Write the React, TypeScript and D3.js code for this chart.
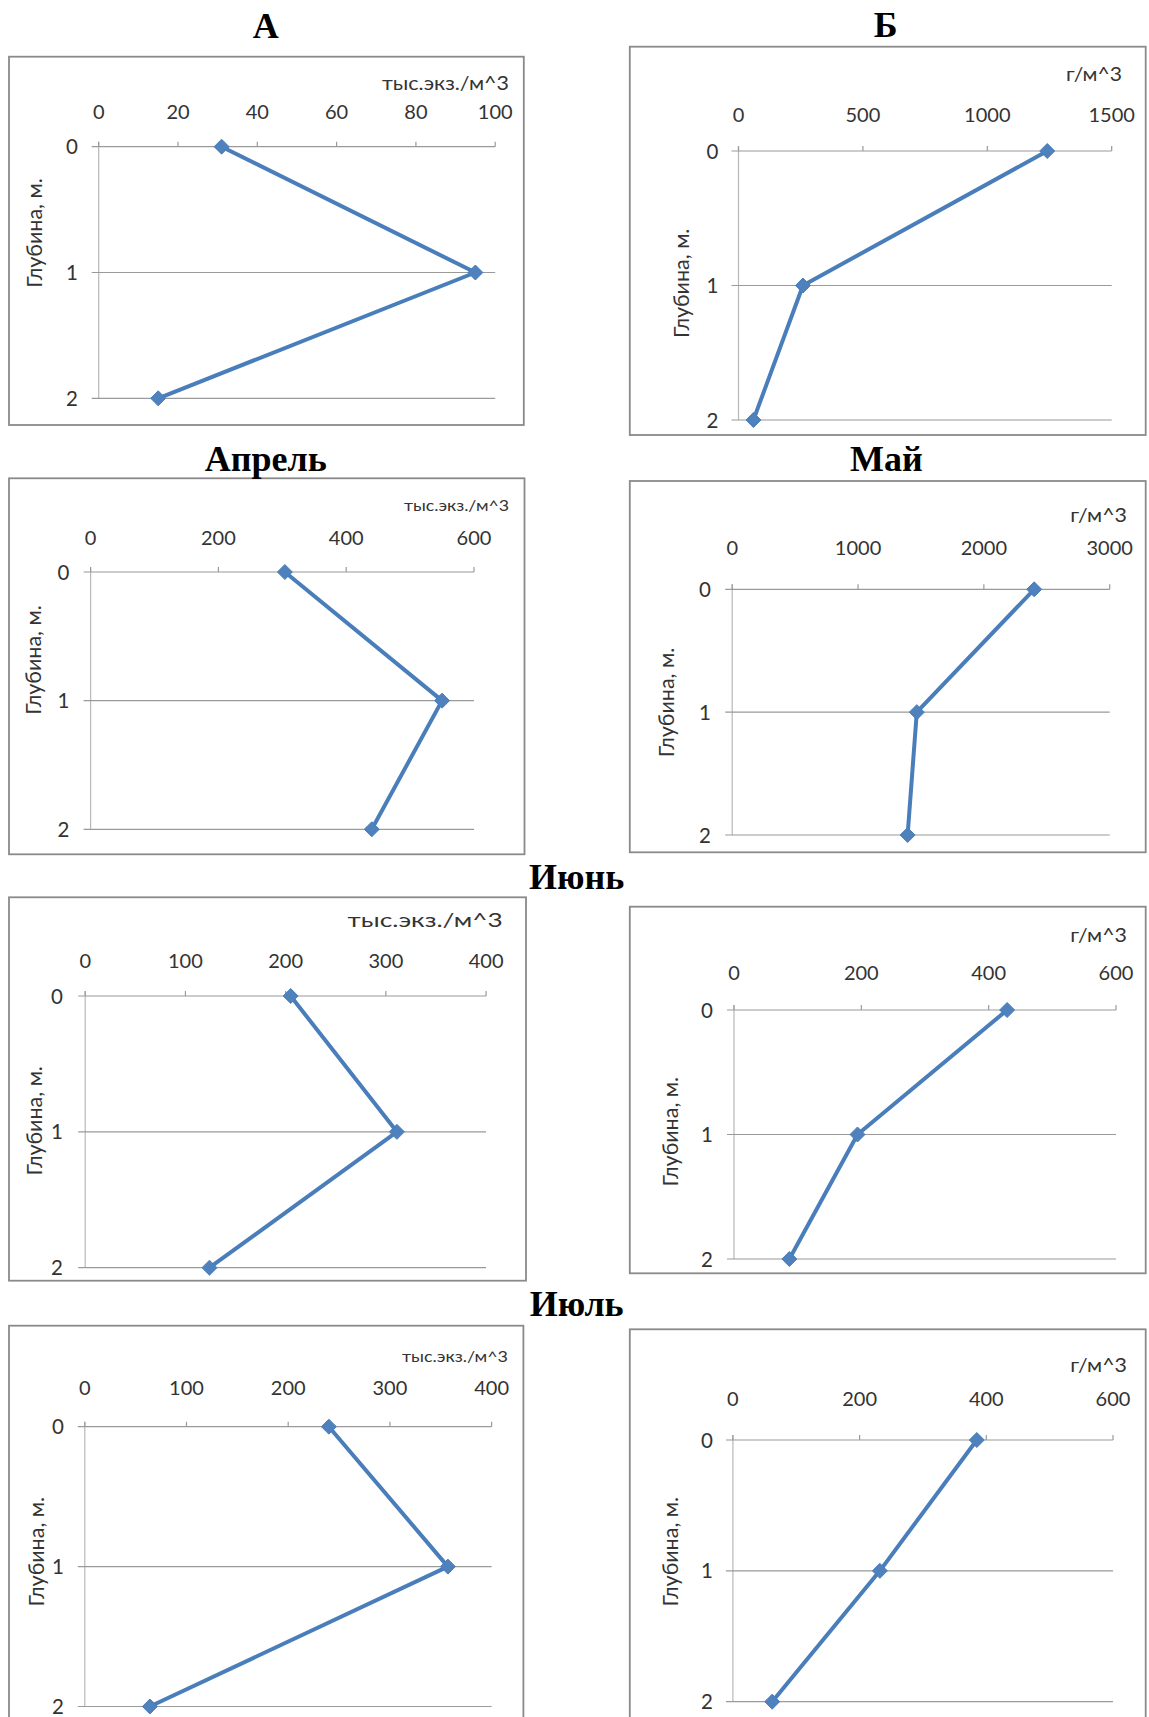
import React from "react";
import * as d3 from "d3";

// ---- data ----
const depths = [0, 1, 2];
const depthTicks = ["0", "1", "2"];

const abundanceA = [31, 95, 15];
const biomassB = [1241, 259, 60];
const abundanceApril = [304, 550, 440];
const biomassMay = [2400, 1467, 1394];
const abundanceJune = [205, 311, 124];
const biomassJune = [429, 194, 87];
const abundanceJuly = [240, 357, 64];
const biomassJuly = [385, 232, 62];

const ticksA = [0, 20, 40, 60, 80, 100];
const ticksB = [0, 500, 1000, 1500];
const ticksApril = [0, 200, 400, 600];
const ticksMay = [0, 1000, 2000, 3000];
const ticksJuneL = [0, 100, 200, 300, 400];
const ticksJuneR = [0, 200, 400, 600];
const ticksJulyL = [0, 100, 200, 300, 400];
const ticksJulyR = [0, 200, 400, 600];

const unitAbundance = "тыс.экз./м^3";
const unitBiomass = "г/м^3";
const depthTitle = "Глубина, м.";

const titles = [
  { text: "А", x: 265.7, y: 37.5 },
  { text: "Б", x: 885.7, y: 37 },
  { text: "Апрель", x: 265.7, y: 471 },
  { text: "Май", x: 886.4, y: 471 },
  { text: "Июнь", x: 576.7, y: 888.5 },
  { text: "Июль", x: 576.7, y: 1316 },
];

// ---- layout ----
type Panel = {
  values: number[];
  ticks: number[];
  unit: string;
  box: [number, number, number, number];
  xr: [number, number];
  yr: [number, number];
  unitRight: number;
  unitBase: number;
  unitSize: number;
  unitLen: number;
  tickBase: number;
  ylabRight: number;
  titleCx: number;
  titleCy: number;
};

const panels: Panel[] = [
  { values: abundanceA, ticks: ticksA, unit: unitAbundance, box: [9, 56.7, 523.8, 425], xr: [98.7, 495.2], yr: [146.7, 398.3], unitRight: 509, unitBase: 90, unitSize: 19, unitLen: 127, tickBase: 119.3, ylabRight: 78, titleCx: 34.7, titleCy: 233 },
  { values: biomassB, ticks: ticksB, unit: unitBiomass, box: [629.8, 46.7, 1145.7, 435], xr: [738.5, 1111.7], yr: [151, 420], unitRight: 1122, unitBase: 80.7, unitSize: 19, unitLen: 56, tickBase: 121.7, ylabRight: 718.3, titleCx: 681, titleCy: 283.3 },
  { values: abundanceApril, ticks: ticksApril, unit: unitAbundance, box: [9, 478.3, 524.5, 854.3], xr: [90.6, 474], yr: [572, 829.3], unitRight: 509, unitBase: 510.7, unitSize: 16, unitLen: 105, tickBase: 545, ylabRight: 69.4, titleCx: 33.6, titleCy: 660 },
  { values: biomassMay, ticks: ticksMay, unit: unitBiomass, box: [629.8, 481, 1145.7, 852.3], xr: [732.2, 1109.7], yr: [589.3, 835], unitRight: 1127, unitBase: 521.7, unitSize: 19, unitLen: 56.7, tickBase: 555, ylabRight: 711, titleCx: 666.4, titleCy: 702.5 },
  { values: abundanceJune, ticks: ticksJuneL, unit: unitAbundance, box: [9, 897.3, 526, 1280.7], xr: [85.2, 486.1], yr: [996, 1267.7], unitRight: 502.6, unitBase: 926.7, unitSize: 20, unitLen: 155, tickBase: 968.3, ylabRight: 63, titleCx: 34.7, titleCy: 1120.8 },
  { values: biomassJune, ticks: ticksJuneR, unit: unitBiomass, box: [629.8, 906.7, 1145.7, 1273.3], xr: [734, 1116], yr: [1010, 1259], unitRight: 1127, unitBase: 941.7, unitSize: 19, unitLen: 56.7, tickBase: 980, ylabRight: 713, titleCx: 670.8, titleCy: 1131.7 },
  { values: abundanceJuly, ticks: ticksJulyL, unit: unitAbundance, box: [9, 1325.7, 523.4, 1740], xr: [84.8, 491.6], yr: [1426.7, 1706.5], unitRight: 508, unitBase: 1361.7, unitSize: 16, unitLen: 106, tickBase: 1395, ylabRight: 64, titleCx: 36.5, titleCy: 1551.7 },
  { values: biomassJuly, ticks: ticksJulyR, unit: unitBiomass, box: [629.8, 1329.3, 1145.7, 1740], xr: [732.9, 1113], yr: [1440, 1701.7], unitRight: 1127, unitBase: 1371.7, unitSize: 19, unitLen: 56.7, tickBase: 1406, ylabRight: 713, titleCx: 670.8, titleCy: 1551.7 },
];

const SANS = "Lato, 'Open Sans', 'Noto Sans', sans-serif";
const TEXT = "#333333";
const GRID = "#9a9a9a";
const BLUE_LINE = "#4a7ebb";
const BLUE_FILL = "#4f81bd";

function PanelChart({ p }: { p: Panel }) {
  const x = d3.scaleLinear().domain([p.ticks[0], p.ticks[p.ticks.length - 1]]).range(p.xr);
  const y = d3.scaleLinear().domain([depths[0], depths[depths.length - 1]]).range(p.yr);
  const pts: [number, number][] = p.values.map((v, i) => [x(v), y(depths[i])]);
  const line = d3.line()(pts) || "";
  const [bx0, by0, bx1, by1] = p.box;
  const x0 = x(p.ticks[0]);
  const x1 = x(p.ticks[p.ticks.length - 1]);
  const m = 7.5;
  return (
    <g>
      <rect x={bx0} y={by0} width={bx1 - bx0} height={by1 - by0} fill="#fff" stroke="#8a8a8a" strokeWidth={1.8} />
      <line x1={x0} x2={x0} y1={y(depths[0]) - 5} y2={y(depths[depths.length - 1])} stroke="#b8b8b8" strokeWidth={1.2} />
      {depths.map((d) => (
        <line key={d} x1={x0 - 7} x2={x1} y1={y(d)} y2={y(d)} stroke={GRID} strokeWidth={1.2} />
      ))}
      {p.ticks.map((t) => (
        <line key={t} x1={x(t)} x2={x(t)} y1={y(depths[0]) - 5} y2={y(depths[0])} stroke={GRID} strokeWidth={1.2} />
      ))}
      {p.ticks.map((t) => (
        <text key={"l" + t} x={x(t)} y={p.tickBase} textAnchor="middle" fontFamily={SANS} fontSize={20} fill={TEXT}>
          {t}
        </text>
      ))}
      {depths.map((d, i) => (
        <text key={"d" + d} x={p.ylabRight} y={y(d) + 7.5} textAnchor="end" fontFamily={SANS} fontSize={20.5} fill={TEXT}>
          {depthTicks[i]}
        </text>
      ))}
      <text
        x={p.unitRight}
        y={p.unitBase}
        textAnchor="end"
        fontFamily={SANS}
        fontSize={p.unitSize}
        fill={TEXT}
        textLength={p.unitLen}
        lengthAdjust="spacingAndGlyphs"
      >
        {p.unit}
      </text>
      <text
        transform={`translate(${p.titleCx + 7.5},${p.titleCy}) rotate(-90)`}
        textAnchor="middle"
        fontFamily={SANS}
        fontSize={21.5}
        fill={TEXT}
      >
        {depthTitle}
      </text>
      <path d={line} fill="none" stroke={BLUE_LINE} strokeWidth={4} strokeLinejoin="round" />
      {pts.map(([px, py], i) => (
        <path key={"m" + i} d={`M${px},${py - m}L${px + m},${py}L${px},${py + m}L${px - m},${py}Z`} fill={BLUE_FILL} stroke={BLUE_LINE} strokeWidth={1} />
      ))}
    </g>
  );
}

export default function App() {
  return (
    <div style={{ position: "absolute", left: 0, top: 0, width: 1149, height: 1717, overflow: "hidden", background: "#fff" }}>
      <svg width={1149} height={1717} viewBox="0 0 1149 1717" style={{ display: "block" }}>
        <rect x={0} y={0} width={1149} height={1717} fill="#fff" />
        {panels.map((p, i) => (
          <PanelChart key={i} p={p} />
        ))}
        {titles.map((t) => (
          <text key={t.text} x={t.x} y={t.y} textAnchor="middle" fontFamily="'Liberation Serif', 'Times New Roman', serif" fontWeight="bold" fontSize={36} fill="#000">
            {t.text}
          </text>
        ))}
      </svg>
    </div>
  );
}
